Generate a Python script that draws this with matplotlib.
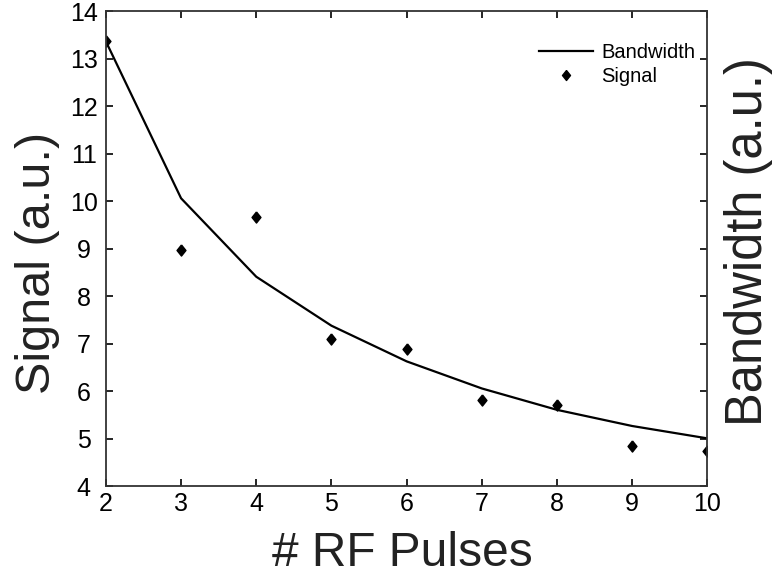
import matplotlib
matplotlib.use("Agg")
import matplotlib.pyplot as plt

plt.rcParams['font.family'] = ['Liberation Sans', 'DejaVu Sans']

# number of RF pulses
pulses = [2, 3, 4, 5, 6, 7, 8, 9, 10]
# bandwidth curve (a.u.)
bandwidth = [13.36, 10.06, 8.41, 7.38, 6.63, 6.06, 5.61, 5.27, 5.01]
# measured signal (a.u.)
signal = [13.36, 8.97, 9.66, 7.11, 6.90, 5.82, 5.71, 4.85, 4.75]

x_ticks = [2, 3, 4, 5, 6, 7, 8, 9, 10]
y_ticks = [4, 5, 6, 7, 8, 9, 10, 11, 12, 13, 14]

# diamond a bit wider than matplotlib's thin 'd'
diamond = [(0, 1), (0.8, 0), (0, -1), (-0.8, 0), (0, 1)]

fig = plt.figure(figsize=(7.73, 5.79), dpi=100)
ax = fig.add_axes([0.137, 0.160, 0.778, 0.821])

ax.plot(pulses, bandwidth, color='black', lw=1.6, label='Bandwidth')
ax.plot(pulses, signal, linestyle='none', marker=diamond, markersize=8,
        color='black', label='Signal')

ax.set_xlim(2, 10)
ax.set_ylim(4, 14)
ax.set_xticks(x_ticks)
ax.set_yticks(y_ticks)
ax.tick_params(axis='both', direction='in', length=5, width=1.2,
               labelsize=18, top=True, right=True)
ax.tick_params(axis='x', pad=4)
ax.tick_params(axis='y', pad=16)
for lbl in ax.get_yticklabels():
    lbl.set_ha('center')
for s in ax.spines.values():
    s.set_linewidth(1.3)
    s.set_color('#333333')

# axis titles placed where they sit in the original
fig.text(0.520, 0.022, '# RF Pulses', fontsize=34.5, ha='center', va='baseline',
         color='#222222')
fig.text(0.048, 0.546, 'Signal (a.u.)', fontsize=35, rotation=90,
         ha='center', va='center', color='#222222')
fig.text(0.968, 0.582, 'Bandwidth (a.u.)', fontsize=36.5, rotation=90,
         ha='center', va='center', color='#222222')

leg = ax.legend(loc='upper right', bbox_to_anchor=(1.01, 0.97), frameon=False,
                fontsize=14.5, handlelength=2.7, handletextpad=0.4,
                labelspacing=0.25, markerscale=0.9)

fig.savefig('out.png', dpi=100)
